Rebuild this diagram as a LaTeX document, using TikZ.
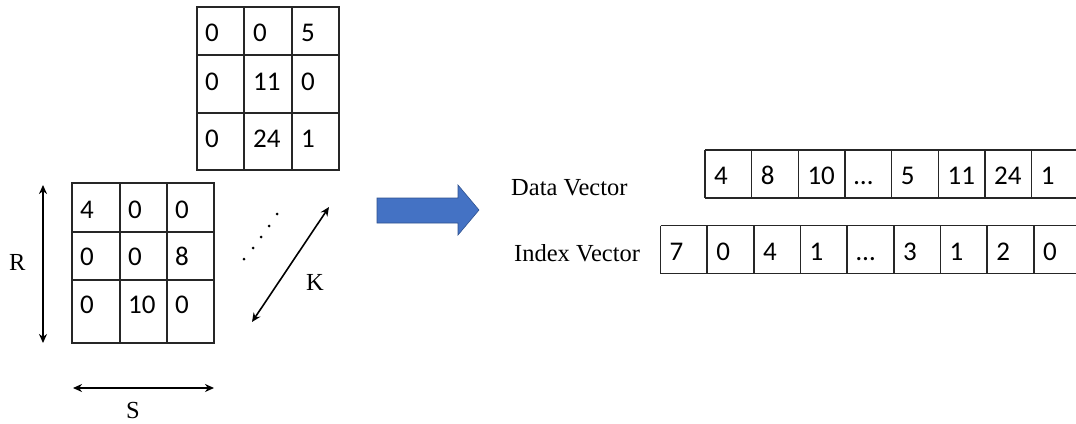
\documentclass[tikz,border=0pt]{standalone}
\usepackage{fontspec}
\setmainfont{Liberation Serif}
\newfontfamily\cellfont{Carlito}
\usetikzlibrary{arrows.meta}
\definecolor{arrowblue}{HTML}{4472C4}
\definecolor{arrowedge}{HTML}{2F528F}
\begin{document}
\begin{tikzpicture}[x=1pt,y=-1pt,
  gridline/.style={draw=black!85, line width=1.5pt},
  num/.style={anchor=base west, inner sep=0pt, font=\cellfont\fontsize{27}{27}\selectfont},
  lbl/.style={anchor=base west, inner sep=0pt, font=\fontsize{24.5}{24.5}\selectfont},
  dim/.style={line width=1.6pt, {Stealth[length=9pt,width=8pt]}-{Stealth[length=9pt,width=8pt]}},
  dotmark/.style={fill=black, circle, inner sep=0pt, minimum size=3pt},
  bigarrow/.style={fill=arrowblue, draw=arrowedge, line width=0.6pt}]
\clip (0,0) rectangle (1076,423);
\fill[white] (0,0) rectangle (1076,423);

% ---- top matrix ----
\draw[gridline] (197,7) rectangle (339,170);
\draw[gridline] (244,7) -- (244,170) (292,7) -- (292,170) (197,55) -- (339,55) (197,113) -- (339,113);
\node[num] (t11) at (205,41.5) {0};
\node[num] (t12) at (253,41.5) {0};
\node[num] (t13) at (301,41.5) {5};
\node[num] (t21) at (205,90) {0};
\node[num] (t22) at (253,90) {11};
\node[num] (t23) at (301,90) {0};
\node[num] (t31) at (205,147) {0};
\node[num] (t32) at (253,147) {24};
\node[num] (t33) at (301,147) {1};

% ---- front matrix ----
\draw[gridline] (72,183) rectangle (214,343);
\draw[gridline] (120,183) -- (120,343) (167,183) -- (167,343) (72,232) -- (214,232) (72,280) -- (214,280);
\node[num] (f11) at (80,218) {4};
\node[num] (f12) at (128,218) {0};
\node[num] (f13) at (175,218) {0};
\node[num] (f21) at (80,265) {0};
\node[num] (f22) at (128,265) {0};
\node[num] (f23) at (175,265) {8};
\node[num] (f31) at (80,313) {0};
\node[num] (f32) at (128,313) {10};
\node[num] (f33) at (175,313) {0};

% ---- dimension arrows ----
\coordinate (rA) at (43,185);
\coordinate (rB) at (43,343);
\draw[dim] (rA) -- (rB);
\node[lbl] (R) at (9,270) {R};
\coordinate (sA) at (73,388);
\coordinate (sB) at (214,388);
\draw[dim] (sA) -- (sB);
\node[lbl] (S) at (126,418) {S};
\coordinate (kA) at (252,322);
\coordinate (kB) at (329,207);
\draw[dim] (kA) -- (kB);
\node[lbl] (K) at (306,290) {K};
\foreach \i/\x/\y in {1/244/259, 2/253/248, 3/261/237, 4/269/226, 5/277/214}
  \node[dotmark] (d\i) at (\x,\y) {};

% ---- blue arrow ----
\draw[bigarrow] (377,198) -- (458,198) -- (458,185) -- (479,210) -- (458,235) -- (458,223) -- (377,223) -- cycle;

% ---- labels ----
\node[lbl] (dlabel) at (511,195) {Data Vector};
\node[lbl] (ilabel) at (514,261) {Index Vector};

% ---- data vector ----
\draw[gridline] (705,150) -- (1090,150) (705,198) -- (1090,198);
\foreach \k in {0,...,8}
  \draw[gridline] ({705+46.67*\k},150) -- ({705+46.67*\k},198);
\foreach \t [count=\k from 0] in {4,8,10,…,5,11,24,1}
  \node[num] (dv\k) at ({705+46.67*\k+9},184) {\t};

% ---- index vector ----
\draw[gridline] (660.5,225.5) -- (1090,225.5) (660.5,273.5) -- (1090,273.5);
\foreach \k in {0,...,9}
  \draw[gridline] ({660.5+46.67*\k},225.5) -- ({660.5+46.67*\k},273.5);
\foreach \t [count=\k from 0] in {7,0,4,1,…,3,1,2,0}
  \node[num] (iv\k) at ({660.5+46.67*\k+9},260) {\t};
\end{tikzpicture}
\end{document}
